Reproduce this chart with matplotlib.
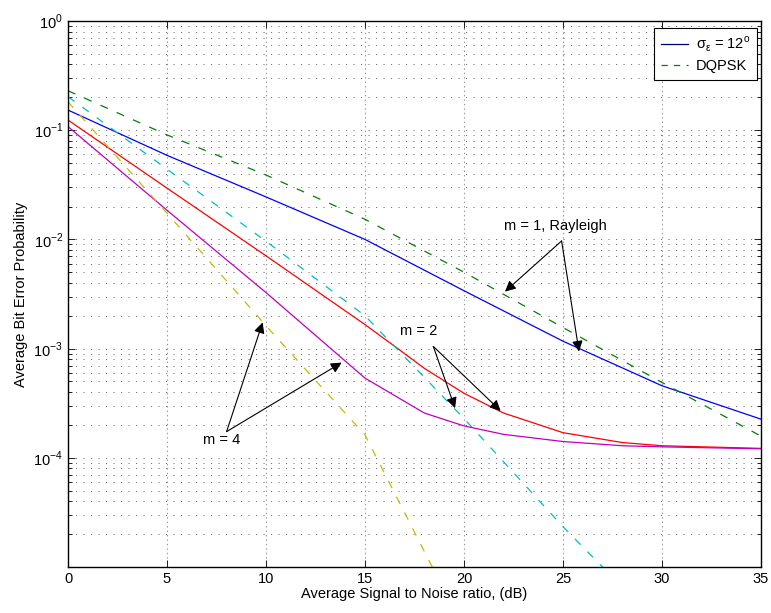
import matplotlib
matplotlib.use("Agg")
import matplotlib.pyplot as plt
from matplotlib.ticker import FixedLocator, NullFormatter

plt.rcParams['font.family'] = ['Liberation Sans', 'DejaVu Sans']
plt.rcParams['mathtext.fontset'] = 'custom'
plt.rcParams['mathtext.rm'] = 'Liberation Sans'
plt.rcParams['lines.scale_dashes'] = False

# Average SNR (dB) and bit error probabilities
snr_blue = [0, 5, 10, 15, 20, 25, 30, 35]
ber_m1 = [0.153, 0.0589, 0.0245, 0.0100, 0.00339, 0.00117, 4.57e-4, 2.26e-4]

snr_green = [0, 5, 10, 15, 20, 25, 30, 35]
ber_dqpsk_m1 = [0.230, 0.0906, 0.0389, 0.0153, 0.00501, 0.00156, 4.9e-4, 1.58e-4]

snr_red = [0, 5, 10, 15, 16.5, 18, 20, 22, 25, 28, 30, 35]
ber_m2 = [0.124, 0.0295, 0.00708, 0.00166, 1.05e-3, 6.6e-4, 3.9e-4, 2.57e-4,
          1.70e-4, 1.38e-4, 1.29e-4, 1.22e-4]

snr_cyan = [0, 5, 10, 15, 20, 25, 27]
ber_dqpsk_m2 = [0.203, 0.0440, 0.00962, 0.00200, 2.29e-4, 2.34e-5, 1.0e-5]

snr_mag = [0, 5, 10, 15, 18, 20, 22, 25, 28, 30, 35]
ber_m4 = [0.108, 0.0185, 0.00326, 5.37e-4, 2.57e-4, 1.96e-4, 1.64e-4,
          1.41e-4, 1.29e-4, 1.26e-4, 1.21e-4]

snr_yel = [0, 5, 10, 15, 18.4]
ber_dqpsk_m4 = [0.182, 0.0174, 0.00162, 1.62e-4, 1.0e-5]

x_ticks = [0, 5, 10, 15, 20, 25, 30, 35]
y_ticks = [1e0, 1e-1, 1e-2, 1e-3, 1e-4, 1e-5]
y_tick_labels = ['$10^{0}$', '$10^{-1}$', '$10^{-2}$', '$10^{-3}$', '$10^{-4}$', '']

c_blue = (0, 0, 1)
c_green = (0, 0.5, 0)
c_red = (1, 0, 0)
c_cyan = (0, 0.75, 0.75)
c_mag = (0.75, 0, 0.75)
c_yel = (0.75, 0.75, 0)
dash = (5.8, 7.0)
lw = 0.9

fig = plt.figure(figsize=(7.71, 6.13), dpi=100)
ax = fig.add_axes([0.0882, 0.075, 0.8988, 0.8907])

ax.plot(snr_blue, ber_m1, color=c_blue, lw=lw)
ax.plot(snr_green, ber_dqpsk_m1, color=c_green, lw=lw, dashes=dash)
ax.plot(snr_red, ber_m2, color=c_red, lw=lw)
ax.plot(snr_cyan, ber_dqpsk_m2, color=c_cyan, lw=lw, dashes=dash)
ax.plot(snr_mag, ber_m4, color=c_mag, lw=lw)
ax.plot(snr_yel, ber_dqpsk_m4, color=c_yel, lw=lw, dashes=dash)

ax.set_yscale('log')
ax.set_xlim(0, 35)
ax.set_ylim(1e-5, 1)
ax.set_xticks(x_ticks)
ax.set_xticklabels([str(v) for v in x_ticks])
ax.yaxis.set_major_locator(FixedLocator(y_ticks))
ax.set_yticklabels(y_tick_labels)
minor = [m * 10.0 ** e for e in range(-5, 0) for m in range(2, 10)]
ax.yaxis.set_minor_locator(FixedLocator(minor))
ax.yaxis.set_minor_formatter(NullFormatter())

ax.tick_params(which='both', direction='in', top=True, right=True, labelsize=10.5)
ax.tick_params(which='major', length=5, width=0.6)
ax.tick_params(which='minor', length=3, width=0.6)
for s in ax.spines.values():
    s.set_linewidth(1.0)

# dotted grid
ax.xaxis.grid(True, which='major', color='0.6', lw=0.8, dashes=(1, 2.2))
ax.yaxis.grid(True, which='both', color='0.35', lw=0.6, dashes=(0.8, 4.6))
ax.set_axisbelow(True)

ax.set_xlabel('Average Signal to Noise ratio, (dB)', fontsize=10.5, labelpad=1)
ax.set_ylabel('Average Bit Error Probability', fontsize=10.5, labelpad=4)

# legend with proxy entries
h1, = ax.plot([], [], color=(0, 0, 0.45), lw=lw)
h2, = ax.plot([], [], color=c_green, lw=lw, dashes=(4.5, 4.5))
leg = ax.legend([h1, h2], [r'σ$_\mathregular{ε}$ = 12$^\mathregular{o}$', 'DQPSK'],
                loc='upper right', bbox_to_anchor=(0.9938, 0.9866), borderaxespad=0,
                fontsize=10.5, fancybox=False, framealpha=1, edgecolor='k',
                handlelength=1.9, handletextpad=0.5, borderpad=0.45, labelspacing=0.35)
leg.get_frame().set_linewidth(0.8)

arrow = dict(arrowstyle='-|>', color='k', lw=0.8, mutation_scale=16, shrinkA=0, shrinkB=0)
fs = 10.5

ax.text(24.6, 10 ** -1.876, 'm = 1, Rayleigh', ha='center', va='center', fontsize=fs)
for tip in [(22.07, 10 ** -2.478), (25.81, 10 ** -3.027)]:
    ax.annotate('', xy=tip, xytext=(24.93, 10 ** -2.014), arrowprops=arrow)

ax.text(17.73, 10 ** -2.838, 'm = 2', ha='center', va='center', fontsize=fs)
for tip in [(19.55, 10 ** -3.545), (21.85, 10 ** -3.57)]:
    ax.annotate('', xy=tip, xytext=(18.45, 10 ** -2.98), arrowprops=arrow)

ax.text(7.76, 10 ** -3.835, 'm = 4', ha='center', va='center', fontsize=fs)
for tip in [(9.83, 10 ** -2.76), (13.82, 10 ** -3.128)]:
    ax.annotate('', xy=tip, xytext=(8.01, 10 ** -3.76), arrowprops=arrow)

fig.savefig('out.png', dpi=100)
